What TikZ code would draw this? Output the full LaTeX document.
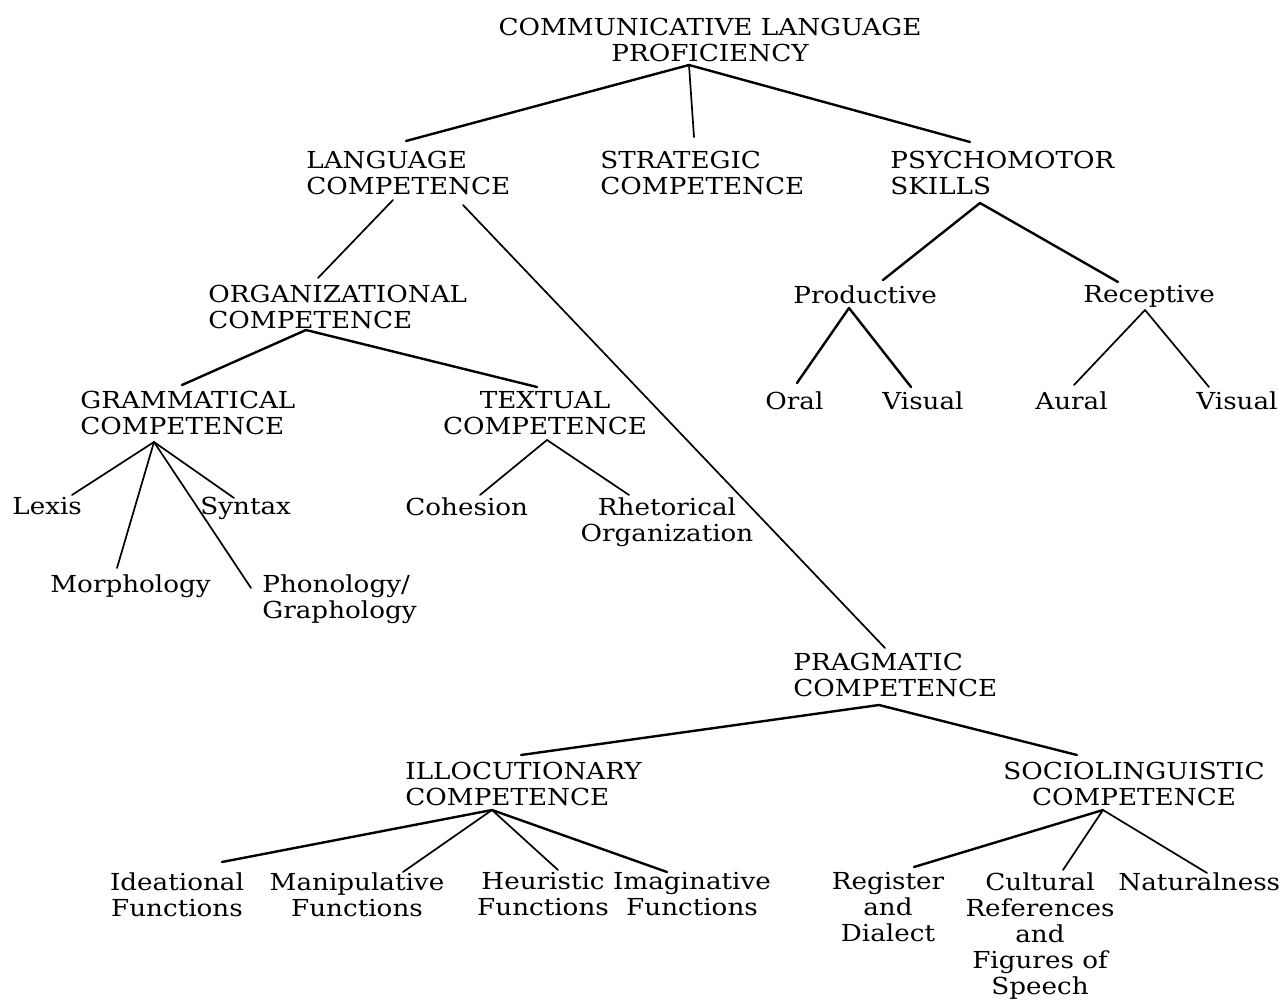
\documentclass[tikz,border=0pt]{standalone}
\usepackage{fontspec}
\setmainfont{DejaVu Serif}[FakeStretch=1.12]
\usepackage{tikz}
\usetikzlibrary{calc}
\newcommand{\chartfont}{\fontsize{11.7}{13}\selectfont}
\tikzset{
  lbl/.style={inner sep=0pt,font=\chartfont,anchor=north west,align=left},
  clbl/.style={inner sep=0pt,font=\chartfont,anchor=north,align=center},
  branch/.style={line width=1.2pt,line cap=round},
  twig/.style={line width=0.85pt,line cap=round},
}

\begin{document}
\begin{tikzpicture}[x=0.5pt,y=-0.5pt]
  \useasboundingbox (0,0) rectangle (1280,1000);
  % top level
  \node[clbl] (clp) at (710,18) {COMMUNICATIVE LANGUAGE\\PROFICIENCY};
  \node[lbl] (lang)   at (306,151) {LANGUAGE\\COMPETENCE};
  \node[lbl] (strat)  at (600,151) {STRATEGIC\\COMPETENCE};
  \node[lbl] (psycho) at (890,151) {PSYCHOMOTOR\\SKILLS};
  % language competence
  \node[lbl] (org)  at (208,285) {ORGANIZATIONAL\\COMPETENCE};
  \node[lbl] (gram) at (80,391) {GRAMMATICAL\\COMPETENCE};
  \node[clbl] (textc) at (545,391) {TEXTUAL\\COMPETENCE};
  \node[lbl] (lexis)  at (12,497) {Lexis};
  \node[lbl] (syntax) at (200,497) {Syntax};
  \node[lbl] (morph)  at (50,574) {Morphology};
  \node[lbl] (phon)   at (262,574) {Phonology/\\Graphology};
  \node[lbl] (cohes)  at (405,497) {Cohesion};
  \node[clbl] (rhet)  at (667,497) {Rhetorical\\Organization};
  % psychomotor skills
  \node[lbl] (prod) at (793,285) {Productive};
  \node[lbl] (rec)  at (1083,285) {Receptive};
  \node[lbl] (oral)  at (765,391) {Oral};
  \node[lbl] (pvis)  at (882,391) {Visual};
  \node[lbl] (aural) at (1035,391) {Aural};
  \node[lbl] (rvis)  at (1196,391) {Visual};
  % pragmatic competence
  \node[lbl] (prag)  at (793,653) {PRAGMATIC\\COMPETENCE};
  \node[lbl] (illoc) at (405,762) {ILLOCUTIONARY\\COMPETENCE};
  \node[clbl] (socio) at (1134,762) {SOCIOLINGUISTIC\\COMPETENCE};
  \node[clbl] (idea)  at (177,872) {Ideational\\Functions};
  \node[clbl] (manip) at (357,872) {Manipulative\\Functions};
  \node[clbl] (heur)  at (543,872) {Heuristic\\Functions};
  \node[clbl] (imag)  at (692,872) {Imaginative\\Functions};
  \node[clbl] (regis) at (888,872) {Register\\and\\Dialect};
  \node[clbl] (cult)  at (1040,872) {Cultural\\References\\and\\Figures of\\Speech};
  \node[lbl] (natur)  at (1118,872) {Naturalness};

  % junction points
  \coordinate (clp-j)    at (689,65);
  \coordinate (lang-j)   at (393,200);
  \coordinate (lang-k)   at (463,205);
  \coordinate (psycho-j) at (980,203);
  \coordinate (org-j)    at (306,330);
  \coordinate (gram-j)   at (154,442);
  \coordinate (textc-j)  at (547,440);
  \coordinate (prod-j)   at (849,308);
  \coordinate (rec-j)    at (1145,310);
  \coordinate (prag-j)   at (879,705);
  \coordinate (illoc-j)  at (492,810);
  \coordinate (socio-j)  at (1103,810);

  % branches
  \draw[branch] (clp-j) -- (406,141);
  \draw[twig]   (clp-j) -- (694,137);
  \draw[branch] (clp-j) -- (970,142);
  \draw[twig]   (lang-j) -- (318,278);
  \draw[twig]   (lang-k) -- (885,648);
  \draw[branch] (org-j) -- (182,385);
  \draw[branch] (org-j) -- (537,387);
  \draw[twig] (gram-j) -- (72,495);
  \draw[twig] (gram-j) -- (117,568);
  \draw[twig] (gram-j) -- (234,498);
  \draw[twig] (gram-j) -- (251,588);
  \draw[twig] (textc-j) -- (480,495);
  \draw[twig] (textc-j) -- (629,495);
  \draw[branch] (psycho-j) -- (883,280);
  \draw[branch] (psycho-j) -- (1118,282);
  \draw[branch] (prod-j) -- (797,383);
  \draw[branch] (prod-j) -- (911,387);
  \draw[twig]   (rec-j) -- (1074,385);
  \draw[twig]   (rec-j) -- (1209,387);
  \draw[branch] (prag-j) -- (521,755);
  \draw[branch] (prag-j) -- (1077,755);
  \draw[branch] (illoc-j) -- (222,862);
  \draw[twig]   (illoc-j) -- (403,872);
  \draw[twig]   (illoc-j) -- (558,870);
  \draw[branch] (illoc-j) -- (667,872);
  \draw[branch] (socio-j) -- (914,867);
  \draw[twig]   (socio-j) -- (1063,870);
  \draw[twig]   (socio-j) -- (1207,873);
\end{tikzpicture}
\end{document}
